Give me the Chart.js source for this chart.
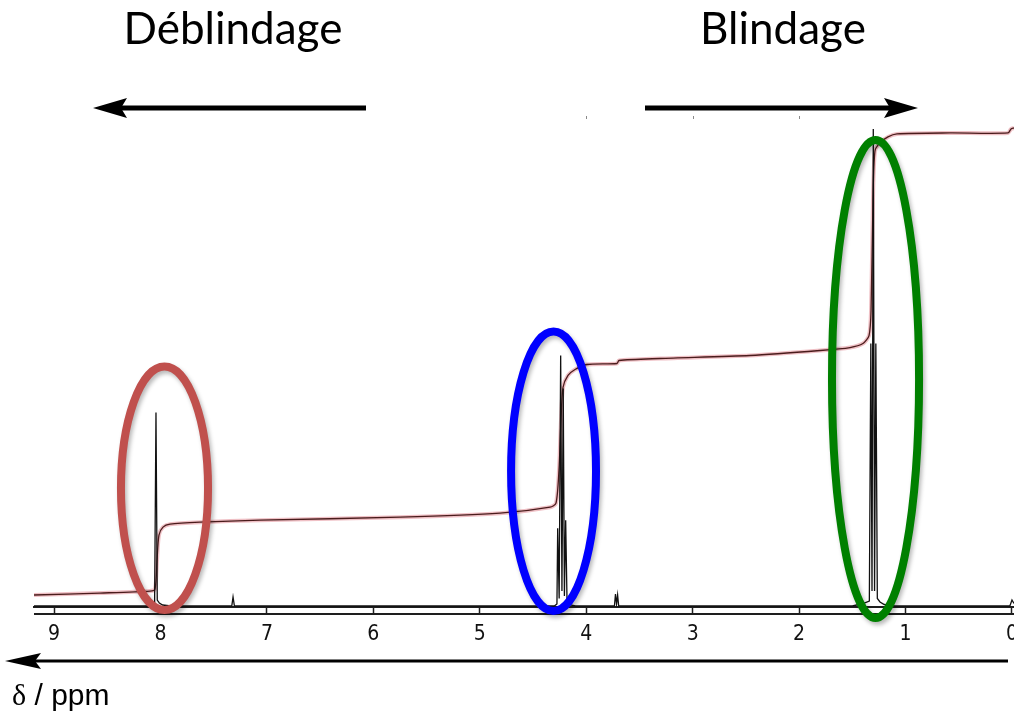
<!DOCTYPE html>
<html lang="fr">
<head>
<meta charset="utf-8">
<title>Spectre RMN 1H</title>
<script src="https://cdn.jsdelivr.net/npm/chart.js@4.4.1/dist/chart.umd.min.js"></script>
<style>
  html, body { margin: 0; padding: 0; background: #fff; }
  #wrap { position: relative; width: 1014px; height: 714px; overflow: hidden; }
  #c { position: absolute; left: 0; top: 0; }
  .head {
    position: absolute; width: 400px; text-align: center;
    font-family: Lato, "Open Sans", sans-serif; font-size: 44px; line-height: 44px;
    color: #000;
  }
  #axisTitle {
    position: absolute; left: 12px; top: 680px;
    font-family: "Liberation Sans", Arial, sans-serif; font-size: 30px; line-height: 30px; color: #000;
  }
  #axisTitle .d { font-family: "Liberation Serif", "Times New Roman", serif; }
</style>
</head>
<body>
<div id="wrap">
  <canvas id="c" width="1014" height="714"></canvas>
  <div class="head" style="left:33px; top:5px;">Déblindage</div>
  <div class="head" style="left:583px; top:5px;">Blindage</div>
  <div id="axisTitle"><span class="d">δ</span> / ppm</div>
</div>
<script>
// Tick labels of the chemical-shift axis (ppm)
const ppmTicks = [9, 8, 7, 6, 5, 4, 3, 2, 1, 0];

// 1H spectrum: chemical shift (ppm) and intensity (arbitrary units)
const specPpm = [9.188, 8.10, 8.055, 8.042, 8.030, 8.010, 7.98, 7.90,
                 7.33, 7.318, 7.305,
                 4.30, 4.275, 4.268, 4.254, 4.240, 4.228, 4.216, 4.205, 4.193, 4.180, 4.15, 4.10,
                 3.735, 3.725, 3.715, 3.705, 3.695,
                 1.50, 1.40, 1.34, 1.326, 1.315, 1.303, 1.291, 1.279, 1.265, 1.24, 1.20, 1.10,
                 0.02, 0.0, -0.019];
const specInt = [0, 0, 0.2, 38.8, 1.2, 0.6, 0.2, 0,
                 0, 1.8, 0,
                 0, 0.4, 15.6, 1.5, 50.2, 3.0, 43.6, 2.0, 17.2, 0.6, 0.2, 0,
                 0, 2.4, 0.4, 2.2, 0,
                 0, 0.5, 1.0, 52.6, 3.0, 95.6, 3.0, 52.6, 1.5, 0.8, 0.3, 0,
                 0, 1.2, 0.5];

// Integration curve (cumulative area, same units)
const integPpm = [9.188, 8.568, 8.098, 8.051, 8.032, 8.014, 7.976, 7.910, 7.628, 7.065,
                  5.749, 4.810, 4.340, 4.284, 4.256, 4.237, 4.218, 4.171, 4.105, 3.993,
                  3.711, 3.692, 3.307, 2.461, 1.803, 1.522, 1.400, 1.343, 1.324, 1.306,
                  1.287, 1.240, 1.165, 1.080, 0.582, 0.037, 0.009, -0.019];
const integVal = [2.2, 2.6, 3.0, 3.4, 9.2, 14.2, 15.8, 16.4, 16.8, 17.2,
                  17.8, 18.6, 19.8, 20.6, 27.2, 37.2, 43.8, 46.2, 47.4, 48.4,
                  48.6, 49.2, 49.6, 50.2, 51.2, 51.8, 52.6, 54.2, 59.2, 81.2,
                  91.2, 92.8, 94.0, 94.6, 94.8, 94.8, 95.6, 95.8];

const toPoints = (xs, ys) => xs.map((x, i) => ({ x: x, y: ys[i] }));

// Ellipses circling each signal group, given in axis units
const groupMarks = [
  { ppm: 7.962, val: 23.6, halfPpm: 0.409, halfVal: 24.4, color: '#C0504D' },
  { ppm: 4.307, val: 27.0, halfPpm: 0.399, halfVal: 28.0, color: '#0000FF' },
  { ppm: 1.282, val: 45.5, halfPpm: 0.409, halfVal: 47.9, color: '#008000' }
];

const AXIS_COLOR = '#1e1e1e';
const TICK_LEN = 7;

function arrow(ctx, xFrom, xTip, y, shaft, headLen, headHalf) {
  const dir = xTip < xFrom ? -1 : 1;
  const xBase = xTip - dir * headLen;
  ctx.lineWidth = shaft;
  ctx.lineCap = 'butt';
  ctx.beginPath();
  ctx.moveTo(xFrom, y);
  ctx.lineTo(xBase + dir * 4, y);
  ctx.stroke();
  ctx.beginPath();
  ctx.moveTo(xTip, y);
  ctx.lineTo(xBase - dir * 4, y - headHalf);
  ctx.lineTo(xBase + dir * 2, y);
  ctx.lineTo(xBase - dir * 4, y + headHalf);
  ctx.closePath();
  ctx.fill();
}

const decor = {
  id: 'decor',
  afterDraw(chart) {
    const ctx = chart.ctx;
    const xs = chart.scales.x, ys = chart.scales.y;
    const area = chart.chartArea;
    ctx.save();

    // lower rule of the axis band
    ctx.strokeStyle = AXIS_COLOR;
    ctx.lineWidth = 2;
    ctx.beginPath();
    ctx.moveTo(area.left, area.bottom + TICK_LEN);
    ctx.lineTo(area.right, area.bottom + TICK_LEN);
    ctx.stroke();

    // faint upper tick remnants
    ctx.strokeStyle = 'rgba(60,60,60,0.6)';
    ctx.lineWidth = 1;
    [4, 3, 2].forEach(v => {
      const px = Math.round(xs.getPixelForValue(v)) + 0.5;
      ctx.beginPath(); ctx.moveTo(px, area.top + 9); ctx.lineTo(px, area.top + 12); ctx.stroke();
    });

    // direction arrows
    ctx.fillStyle = '#000';
    ctx.strokeStyle = '#000';
    arrow(ctx, 366, 93, 108, 5, 30, 10);
    arrow(ctx, 645, 918, 108, 5, 30, 10);
    arrow(ctx, 1008, 5, 661, 3, 32, 8);

    // group ellipses
    groupMarks.forEach(g => {
      const cx = xs.getPixelForValue(g.ppm);
      const cy = ys.getPixelForValue(g.val);
      const rx = Math.abs(xs.getPixelForValue(g.ppm + g.halfPpm) - cx);
      const ry = Math.abs(ys.getPixelForValue(g.val + g.halfVal) - cy);
      ctx.save();
      ctx.shadowColor = 'rgba(0,0,0,0.28)';
      ctx.shadowBlur = 4;
      ctx.shadowOffsetX = 2;
      ctx.shadowOffsetY = 3;
      ctx.strokeStyle = g.color;
      ctx.lineWidth = 8;
      ctx.beginPath();
      ctx.ellipse(cx, cy, rx, ry, 0, 0, Math.PI * 2);
      ctx.stroke();
      ctx.restore();
    });
    ctx.restore();
  }
};

new Chart(document.getElementById('c'), {
  type: 'line',
  data: {
    datasets: [
      { // pink halo of the integration trace
        data: toPoints(integPpm, integVal),
        borderColor: 'rgba(225,140,150,0.55)', borderWidth: 4,
        pointRadius: 0, tension: 0.25, order: 3
      },
      { // integration trace
        data: toPoints(integPpm, integVal),
        borderColor: '#4a1c1c', borderWidth: 1.3,
        pointRadius: 0, tension: 0.25, order: 2
      },
      { // spectrum
        data: toPoints(specPpm, specInt),
        borderColor: '#111', borderWidth: 1.3,
        pointRadius: 0, tension: 0, order: 1
      }
    ]
  },
  options: {
    responsive: false,
    animation: false,
    devicePixelRatio: 1,
    layout: { padding: { left: 34, right: 0, top: 107, bottom: 0 } },
    plugins: { legend: { display: false }, tooltip: { enabled: false }, title: { display: false } },
    scales: {
      x: {
        type: 'linear',
        reverse: true,
        min: -0.019,
        max: 9.188,
        afterBuildTicks: s => { s.ticks = ppmTicks.map(v => ({ value: v })); },
        afterFit: s => { s.height = 107; s.paddingLeft = 0; s.paddingRight = 0; },
        border: { display: true, color: AXIS_COLOR, width: 2 },
        grid: { drawOnChartArea: false, drawTicks: true, tickLength: TICK_LEN, tickColor: AXIS_COLOR, tickWidth: 1.5 },
        ticks: {
          autoSkip: false, maxRotation: 0, padding: 8, color: '#111',
          font: { family: "'DejaVu Sans Condensed', 'Liberation Sans Narrow', sans-serif", size: 21 },
          callback: v => String(v)
        }
      },
      y: { display: false, min: -0.2, max: 100 }
    }
  },
  plugins: [decor]
});
</script>
</body>
</html>
